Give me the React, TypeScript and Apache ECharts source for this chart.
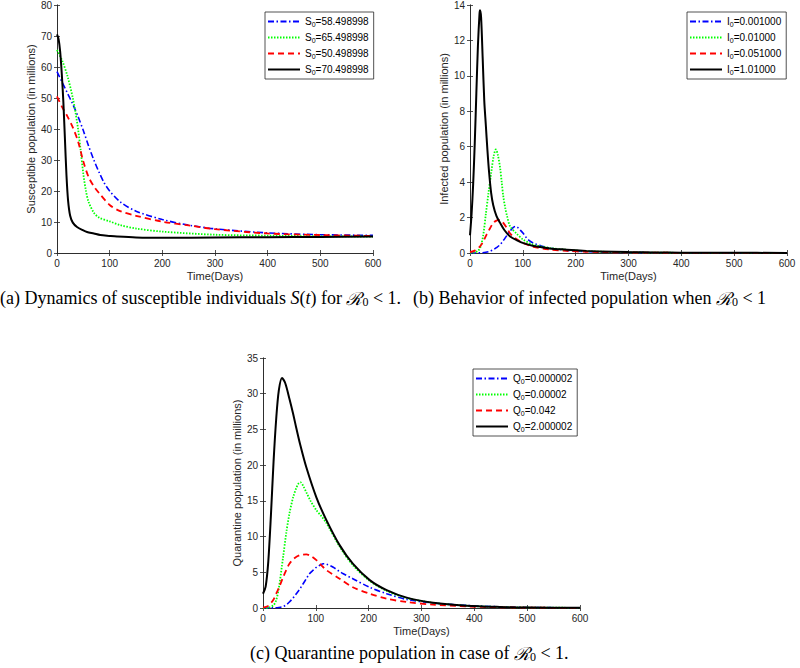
import React, { useEffect, useRef } from "react";
import * as echarts from "echarts";

// ---------- data ----------
const xMax = 600;
const xStep = 100;

// (a) susceptible
const aNames = ["S0=58.498998", "S0=65.498998", "S0=50.498998", "S0=70.498998"];
const aBlueDays = [0, 10, 20, 30, 40, 50, 60, 70, 80, 90, 100, 120, 150, 200, 250, 300, 400, 500, 600];
const aBlue = [58.5, 55, 51.5, 48, 44, 39.5, 34.5, 30, 26, 22.5, 20, 16.5, 13.5, 10.8, 9, 7.8, 6.5, 5.9, 5.7];
const aGreenDays = [0, 10, 20, 30, 35, 40, 45, 50, 55, 60, 70, 80, 100, 120, 150, 200, 300, 400, 500, 600];
const aGreen = [65.5, 62, 57, 50, 45.5, 40, 33, 25.5, 20, 16.5, 13, 11.4, 10.2, 9, 7.9, 6.9, 5.9, 5.6, 5.4, 5.3];
const aRedDays = [0, 10, 20, 30, 40, 50, 60, 70, 80, 100, 120, 150, 200, 250, 300, 400, 500, 600];
const aRed = [50.5, 47, 44, 40.5, 36, 29.5, 24.5, 21.5, 19.3, 15.5, 13.5, 12, 10.1, 8.9, 7.7, 6.3, 5.8, 5.5];
const aBlackDays = [0, 3, 6, 9, 12, 15, 18, 21, 25, 30, 38, 50, 57, 70, 82, 100, 114, 150, 208, 300, 400, 500, 600];
const aBlack = [70.5, 69, 65, 58, 49, 37, 25, 17, 12, 9.8, 8.4, 7.3, 6.8, 6.3, 5.8, 5.5, 5.3, 5.0, 4.9, 5.0, 5.1, 5.2, 5.3];

// (b) infected
const bNames = ["I0=0.001000", "I0=0.01000", "I0=0.051000", "I0=1.01000"];
const bBlueDays = [0, 20, 30, 38, 45, 50, 57, 63, 70, 76, 82, 86, 90, 95, 101, 107, 113, 120, 135, 152, 183, 220, 300, 400, 600];
const bBlue = [0.001, 0.01, 0.04, 0.1, 0.2, 0.3, 0.47, 0.7, 1.0, 1.25, 1.45, 1.5, 1.45, 1.3, 1.1, 0.85, 0.68, 0.56, 0.4, 0.28, 0.15, 0.08, 0.03, 0.01, 0];
const bGreenDays = [0, 10, 15, 20, 25, 30, 35, 40, 45, 49, 53, 57, 60, 63, 67, 70, 76, 88, 101, 120, 152, 183, 220, 300, 400, 600];
const bGreen = [0.01, 0.05, 0.12, 0.35, 1.0, 2.2, 3.4, 4.5, 5.5, 5.85, 5.5, 4.8, 4.0, 3.2, 2.5, 2.1, 1.5, 1.1, 0.75, 0.47, 0.28, 0.18, 0.1, 0.04, 0.01, 0];
const bRedDays = [0, 10, 19, 25, 31.6, 38, 44, 50, 55, 60, 63, 70, 76, 85, 95, 110, 120, 152, 183, 220, 300, 400, 600];
const bRed = [0.05, 0.15, 0.37, 0.65, 1.05, 1.4, 1.7, 1.83, 1.87, 1.8, 1.7, 1.4, 1.1, 0.85, 0.65, 0.45, 0.34, 0.19, 0.12, 0.07, 0.03, 0.01, 0];
const bBlackDays = [0, 3, 6, 9, 12, 15, 18, 19, 21, 24, 27, 30, 33, 36, 40, 44, 50, 57, 65, 76, 90, 101, 120, 133, 150, 183, 220, 246, 300, 350, 400, 500, 600];
const bBlack = [1.0, 2.2, 3.9, 6.2, 9.0, 11.7, 13.5, 13.7, 13.3, 11.0, 8.6, 7.2, 5.8, 4.6, 3.4, 2.7, 2.1, 1.7, 1.3, 0.93, 0.7, 0.56, 0.4, 0.34, 0.26, 0.19, 0.12, 0.09, 0.05, 0.03, 0.02, 0.01, 0.005];

// (c) quarantine
const cNames = ["Q0=0.000002", "Q0=0.00002", "Q0=0.042", "Q0=2.000002"];
const cBlueDays = [0, 20, 30, 38, 45, 50, 57, 63, 70, 76, 82, 88, 95, 101, 108, 114, 120, 133, 145, 152, 170, 202, 234, 272, 322, 385, 448, 500, 600];
const cBlue = [0, 0.02, 0.08, 0.2, 0.5, 0.84, 1.4, 2.0, 2.7, 3.4, 4.1, 4.8, 5.3, 5.7, 6.0, 6.2, 6.15, 5.7, 5.1, 4.8, 4.1, 2.9, 2.0, 1.2, 0.7, 0.37, 0.17, 0.08, 0.02];
const cGreenDays = [0, 10, 20, 25, 30, 38, 44, 50, 57, 63, 67, 71, 76, 82, 90, 101, 110, 120, 145, 170, 202, 234, 272, 322, 385, 448, 500, 600];
const cGreen = [0, 0.05, 0.4, 1.1, 2.8, 7.1, 10.5, 13.2, 15.5, 16.8, 17.4, 17.6, 17.1, 16.2, 15, 13.7, 12.9, 11.9, 8.6, 6.0, 3.8, 2.4, 1.4, 0.72, 0.32, 0.14, 0.07, 0.02];
const cRedDays = [0, 10, 20, 25, 30, 38, 44, 50, 60, 70, 82, 90, 101, 110, 120, 145, 170, 202, 234, 272, 322, 385, 448, 500, 600];
const cRed = [0.04, 0.3, 1.2, 2.0, 2.8, 4.3, 5.3, 6.2, 7.0, 7.4, 7.5, 7.3, 6.7, 6.0, 5.3, 4.1, 2.9, 2.0, 1.3, 0.84, 0.47, 0.22, 0.1, 0.05, 0.01];
const cBlackDays = [0, 5, 10, 15, 20, 25, 30, 36, 42, 50, 57, 63, 70, 82, 101, 120, 145, 170, 202, 234, 272, 322, 385, 448, 500, 600];
const cBlack = [2.0, 3.0, 6.5, 13, 20.5, 26.5, 30.5, 32.2, 31.5, 29.3, 27.2, 25.2, 23, 19.7, 15.5, 12.3, 8.8, 6.2, 3.9, 2.5, 1.45, 0.75, 0.33, 0.15, 0.08, 0.02];

const yLabels = [
  "Susceptible population (in millions)",
  "Infected population (in millions)",
  "Quarantine population (in millions)",
];
const xLabel = "Time(Days)";
const yMaxes = [80, 14, 35];
const yIntervals = [10, 2, 5];

// ---------- styling ----------
const AX = "#262626";
const FONT = "'Liberation Sans', Arial, Helvetica, sans-serif";
const SERIF = "'Liberation Serif', 'Times New Roman', serif";

const STY: any[] = [
  { color: "#0000ff", width: 1.6, type: [6, 2.5, 1.5, 2.5] },
  { color: "#00ff00", width: 1.8, type: [1.5, 1.5] },
  { color: "#ff0000", width: 1.8, type: [6, 4] },
  { color: "#000000", width: 2, type: "solid" },
];

const grids = [
  { left: 57, top: 2, width: 316, height: 251 },
  { left: 470, top: 3, width: 317, height: 250 },
  { left: 263, top: 358, width: 317, height: 250 },
];

const pairs = (d: number[], v: number[]) => d.map((x, i) => [x, v[i]]);

function mkSeries(names: string[], sets: [number[], number[]][], gi: number) {
  return sets.map(([d, v], k) => ({
    type: "line",
    name: names[k],
    data: pairs(d, v),
    xAxisIndex: gi * 2,
    yAxisIndex: gi * 2,
    symbol: "none",
    showSymbol: false,
    smooth: 0.3,
    color: STY[k].color,
    lineStyle: { ...STY[k] },
    silent: true,
    z: k === 3 ? 3 : 2,
  }));
}

function mkAxes(gi: number) {
  const line = { show: true, lineStyle: { color: AX, width: 0.8 } };
  const tick = { show: true, inside: true, length: 3, lineStyle: { color: AX, width: 0.8 } };
  const label = { color: AX, fontSize: 10, fontFamily: FONT, margin: 5 };
  const xs = [
    {
      type: "value", gridIndex: gi, min: 0, max: xMax, interval: xStep, position: "bottom",
      axisLine: line, axisTick: tick, axisLabel: label, splitLine: { show: false },
      name: xLabel, nameLocation: "middle", nameGap: 17,
      nameTextStyle: { color: AX, fontSize: 11, fontFamily: FONT },
    },
    {
      type: "value", gridIndex: gi, min: 0, max: xMax, interval: xStep, position: "top",
      axisLine: line, axisTick: tick, axisLabel: { show: false }, splitLine: { show: false },
    },
  ];
  const ys = [
    {
      type: "value", gridIndex: gi, min: 0, max: yMaxes[gi], interval: yIntervals[gi], position: "left",
      axisLine: line, axisTick: tick, axisLabel: label, splitLine: { show: false },
      name: yLabels[gi], nameLocation: "middle", nameGap: 19,
      nameTextStyle: { color: AX, fontSize: 11, fontFamily: FONT },
    },
    {
      type: "value", gridIndex: gi, min: 0, max: yMaxes[gi], interval: yIntervals[gi], position: "right",
      axisLine: line, axisTick: tick, axisLabel: { show: false }, splitLine: { show: false },
    },
  ];
  return { xs, ys };
}

function mkLegend(names: string[], left: number, top: number) {
  return {
    data: names,
    orient: "vertical",
    left,
    top,
    itemWidth: 32,
    itemHeight: 8,
    itemGap: 3,
    padding: [3, 5, 3, 2],
    backgroundColor: "#ffffff",
    borderColor: AX,
    borderWidth: 0.8,
    borderRadius: 0,
    selectedMode: false,
    itemStyle: { opacity: 0, borderWidth: 0 },
    formatter: (n: string) => `{m|${n[0]}}{s|0}{m|${n.slice(2)}}`,
    textStyle: {
      color: "#000",
      fontFamily: FONT,
      fontSize: 10,
      rich: {
        m: { fontSize: 10, fontFamily: FONT, color: "#000", lineHeight: 13 },
        s: { fontSize: 7, fontFamily: FONT, color: "#000", padding: [6, 0, 0, 0], lineHeight: 13 },
      },
    },
  };
}

function caption(x: number, y: number, parts: string) {
  return {
    type: "text",
    left: x,
    top: y,
    silent: true,
    style: {
      text: parts,
      fill: "#000",
      font: `18px ${SERIF}`,
      rich: {
        n: { fontSize: 18, fontFamily: SERIF, fill: "#000" },
        i: { fontSize: 18, fontFamily: SERIF, fontStyle: "italic", fill: "#000" },
        r: { fontSize: 18, fontFamily: "'DejaVu Serif', serif", fontStyle: "italic", fill: "#000" },
        s: { fontSize: 12, fontFamily: SERIF, fill: "#000", padding: [7, 0, 0, 0] },
      },
    },
  };
}

export default function App() {
  const ref = useRef<HTMLDivElement>(null);
  useEffect(() => {
    if (!ref.current) return;
    const chart = echarts.init(ref.current, undefined, { renderer: "svg" });
    const axes = [0, 1, 2].map(mkAxes);
    const option: any = {
      animation: false,
      backgroundColor: "#ffffff",
      grid: grids.map((g) => ({ ...g, containLabel: false })),
      xAxis: axes.flatMap((a) => a.xs),
      yAxis: axes.flatMap((a) => a.ys),
      legend: [
        mkLegend(aNames, 265, 12),
        mkLegend(bNames, 687, 12),
        mkLegend(cNames, 473, 369),
      ],
      series: [
        ...mkSeries(aNames, [[aBlueDays, aBlue], [aGreenDays, aGreen], [aRedDays, aRed], [aBlackDays, aBlack]], 0),
        ...mkSeries(bNames, [[bBlueDays, bBlue], [bGreenDays, bGreen], [bRedDays, bRed], [bBlackDays, bBlack]], 1),
        ...mkSeries(cNames, [[cBlueDays, cBlue], [cGreenDays, cGreen], [cRedDays, cRed], [cBlackDays, cBlack]], 2),
      ],
      graphic: [
        caption(0, 289, "{n|(a) Dynamics of susceptible individuals }{i|S}{n|(}{i|t}{n|) for }{r|ℛ}{s|0}{n| < 1.}"),
        caption(413, 289, "{n|(b) Behavior of infected population when }{r|ℛ}{s|0}{n| < 1}"),
        caption(250, 644, "{n|(c) Quarantine population in case of }{r|ℛ}{s|0}{n| < 1.}"),
      ],
    };
    chart.setOption(option);
    return () => chart.dispose();
  }, []);
  return (
    <div
      ref={ref}
      style={{ position: "fixed", left: 0, top: 0, width: 800, height: 668, background: "#fff" }}
    />
  );
}
